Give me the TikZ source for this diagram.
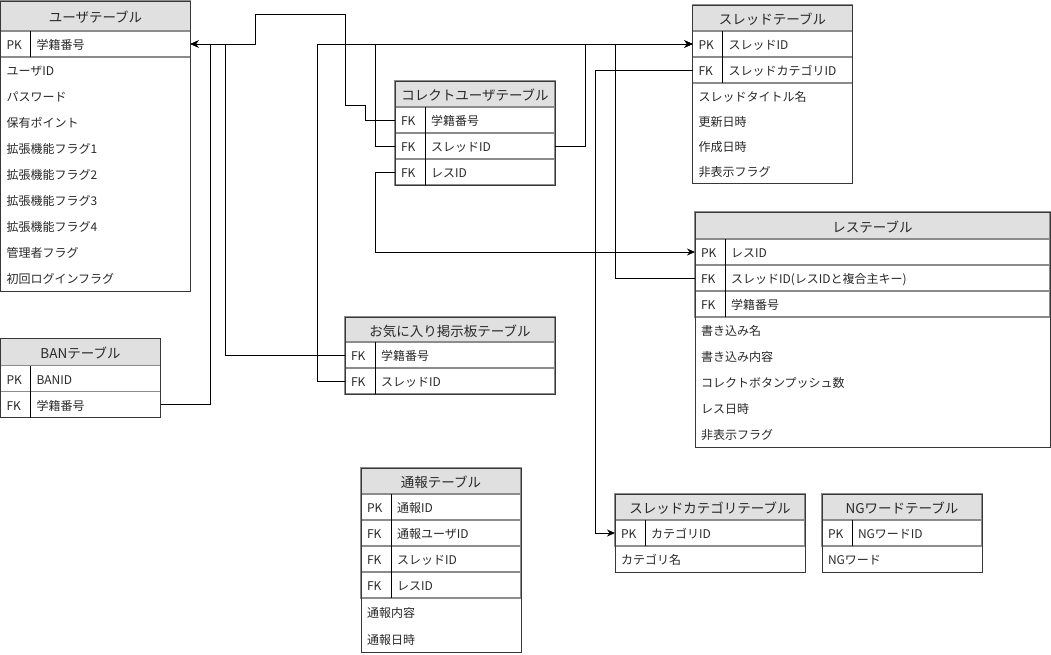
\documentclass[tikz,border=0pt]{standalone}
\usepackage{fontspec}
\setmainfont{Noto Sans CJK JP}
\usepackage{xcolor}
\usetikzlibrary{arrows.meta,positioning}
\definecolor{headgray}{RGB}{224,224,224}
\definecolor{sepgray}{RGB}{140,140,140}
\definecolor{framegray}{RGB}{55,55,55}
\definecolor{txtgray}{RGB}{40,40,40}
\newcommand{\kf}[1]{\makebox[30pt][l]{#1}}

\begin{document}
\begin{tikzpicture}[x=1pt,y=-1pt,
        head/.style={rectangle,draw=sepgray,fill=headgray,line width=1.2pt,minimum width=#1,
          minimum height=26pt,inner sep=0pt,outer sep=0pt,anchor=north west,
          text height=14pt,text depth=1pt,font=\fontsize{13.5}{15}\selectfont,text=txtgray},
        keyrow/.style={rectangle,draw=sepgray,line width=1.2pt,text width=#1,minimum height=26pt,
          inner xsep=6pt,inner ysep=0pt,outer sep=0pt,text height=12.5pt,text depth=1pt,
          font=\fontsize{12}{14}\selectfont,text=txtgray},
        attr/.style={rectangle,text width=#1,minimum height=26pt,inner xsep=6pt,inner ysep=0pt,
          outer sep=0pt,text height=12.5pt,text depth=1pt,font=\fontsize{12}{14}\selectfont,text=txtgray},
        frame/.style={draw=framegray,line width=1pt},
        keyline/.style={draw=black,line width=0.8pt},
        rel/.style={draw=black,line width=0.9pt,-{Stealth[length=8pt,width=7pt]}}]
        \useasboundingbox (0,0) rectangle (1051,654);

        \node[head=190pt,minimum height=30pt] (uHead) at (0.5,1) {ユーザテーブル};
        \node[keyrow=178pt,below=0pt of uHead] (uPK) {\kf{PK}学籍番号};
        \node[attr=178pt,below=0pt of uPK] (uA1) {ユーザID};
        \node[attr=178pt,below=0pt of uA1] (uA2) {パスワード};
        \node[attr=178pt,below=0pt of uA2] (uA3) {保有ポイント};
        \node[attr=178pt,below=0pt of uA3] (uA4) {拡張機能フラグ1};
        \node[attr=178pt,below=0pt of uA4] (uA5) {拡張機能フラグ2};
        \node[attr=178pt,below=0pt of uA5] (uA6) {拡張機能フラグ3};
        \node[attr=178pt,below=0pt of uA6] (uA7) {拡張機能フラグ4};
        \node[attr=178pt,below=0pt of uA7] (uA8) {管理者フラグ};
        \node[attr=178pt,below=0pt of uA8] (uA9) {初回ログインフラグ};
        \draw[frame] (uHead.north west) rectangle (uA9.south east);
        \draw[keyline] ([xshift=30pt]uPK.north west) -- ([xshift=30pt]uPK.south west);

        \node[head=160pt,minimum height=27pt] (bHead) at (0.5,338.5) {BANテーブル};
        \node[keyrow=148pt,below=0pt of bHead] (bPK) {\kf{PK}BANID};
        \node[keyrow=148pt,below=0pt of bPK] (bFK) {\kf{FK}学籍番号};
        \draw[frame] (bHead.north west) rectangle (bFK.south east);
        \draw[keyline] ([xshift=30pt]bPK.north west) -- ([xshift=30pt]bFK.south west);

        \node[head=160pt] (cuHead) at (395,81) {コレクトユーザテーブル};
        \node[keyrow=148pt,below=0pt of cuHead] (cuGak) {\kf{FK}学籍番号};
        \node[keyrow=148pt,below=0pt of cuGak] (cuThr) {\kf{FK}スレッドID};
        \node[keyrow=148pt,below=0pt of cuThr] (cuRes) {\kf{FK}レスID};
        \draw[frame] (cuHead.north west) rectangle (cuRes.south east);
        \draw[keyline] ([xshift=30pt]cuGak.north west) -- ([xshift=30pt]cuRes.south west);

        \node[head=160pt] (thHead) at (692.5,5) {スレッドテーブル};
        \node[keyrow=148pt,below=0pt of thHead] (thPK) {\kf{PK}スレッドID};
        \node[keyrow=148pt,below=0pt of thPK] (thCat) {\kf{FK}スレッドカテゴリID};
        \node[attr=148pt,minimum height=25pt,below=0pt of thCat] (thA1) {スレッドタイトル名};
        \node[attr=148pt,minimum height=25pt,below=0pt of thA1] (thA2) {更新日時};
        \node[attr=148pt,minimum height=25pt,below=0pt of thA2] (thA3) {作成日時};
        \node[attr=148pt,minimum height=25pt,below=0pt of thA3] (thA4) {非表示フラグ};
        \draw[frame] (thHead.north west) rectangle (thA4.south east);
        \draw[keyline] ([xshift=30pt]thPK.north west) -- ([xshift=30pt]thCat.south west);

        \node[head=355pt,minimum height=27pt] (rsHead) at (695,212) {レステーブル};
        \node[keyrow=343pt,below=0pt of rsHead] (rsPK) {\kf{PK}レスID};
        \node[keyrow=343pt,below=0pt of rsPK] (rsThr) {\kf{FK}スレッドID(レスIDと複合主キー)};
        \node[keyrow=343pt,below=0pt of rsThr] (rsGak) {\kf{FK}学籍番号};
        \node[attr=343pt,below=0pt of rsGak] (rsA1) {書き込み名};
        \node[attr=343pt,below=0pt of rsA1] (rsA2) {書き込み内容};
        \node[attr=343pt,below=0pt of rsA2] (rsA3) {コレクトボタンプッシュ数};
        \node[attr=343pt,below=0pt of rsA3] (rsA4) {レス日時};
        \node[attr=343pt,below=0pt of rsA4] (rsA5) {非表示フラグ};
        \draw[frame] (rsHead.north west) rectangle (rsA5.south east);
        \draw[keyline] ([xshift=30pt]rsPK.north west) -- ([xshift=30pt]rsGak.south west);

        \node[head=210pt,minimum height=25pt] (fvHead) at (345,317) {お気に入り掲示板テーブル};
        \node[keyrow=198pt,below=0pt of fvHead] (fvGak) {\kf{FK}学籍番号};
        \node[keyrow=198pt,below=0pt of fvGak] (fvThr) {\kf{FK}スレッドID};
        \draw[frame] (fvHead.north west) rectangle (fvThr.south east);
        \draw[keyline] ([xshift=30pt]fvGak.north west) -- ([xshift=30pt]fvThr.south west);

        \node[head=160pt] (rpHead) at (361,468) {通報テーブル};
        \node[keyrow=148pt,below=0pt of rpHead] (rpPK) {\kf{PK}通報ID};
        \node[keyrow=148pt,below=0pt of rpPK] (rpUsr) {\kf{FK}通報ユーザID};
        \node[keyrow=148pt,below=0pt of rpUsr] (rpThr) {\kf{FK}スレッドID};
        \node[keyrow=148pt,below=0pt of rpThr] (rpRes) {\kf{FK}レスID};
        \node[attr=148pt,minimum height=27pt,below=0pt of rpRes] (rpA1) {通報内容};
        \node[attr=148pt,minimum height=27pt,below=0pt of rpA1] (rpA2) {通報日時};
        \draw[frame] (rpHead.north west) rectangle (rpA2.south east);
        \draw[keyline] ([xshift=30pt]rpPK.north west) -- ([xshift=30pt]rpRes.south west);

        \node[head=190pt] (ctHead) at (615,494) {スレッドカテゴリテーブル};
        \node[keyrow=178pt,below=0pt of ctHead] (ctPK) {\kf{PK}カテゴリID};
        \node[attr=178pt,below=0pt of ctPK] (ctA1) {カテゴリ名};
        \draw[frame] (ctHead.north west) rectangle (ctA1.south east);
        \draw[keyline] ([xshift=30pt]ctPK.north west) -- ([xshift=30pt]ctPK.south west);

        \node[head=160pt] (ngHead) at (822,494) {NGワードテーブル};
        \node[keyrow=148pt,below=0pt of ngHead] (ngPK) {\kf{PK}NGワードID};
        \node[attr=148pt,below=0pt of ngPK] (ngA1) {NGワード};
        \draw[frame] (ngHead.north west) rectangle (ngA1.south east);
        \draw[keyline] ([xshift=30pt]ngPK.north west) -- ([xshift=30pt]ngPK.south west);

        \draw[rel] (cuGak.west) -| (365,105) -| (345,14) -| (255,44) -- (uPK.east);
        \draw[rel] (bFK.east) -| (210,44) -- (uPK.east);
        \draw[rel] (fvGak.west) -| (225,44) -- (uPK.east);
        \draw[rel] (fvThr.west) -| (317,44) -- (thPK.west);
        \draw[rel] (cuThr.west) -| (375,44) -- (thPK.west);
        \draw[rel] (cuThr.east) -| (585,44) -- (thPK.west);
        \draw[rel] (rsThr.west) -| (615,44) -- (thPK.west);
        \draw[rel] (cuRes.west) -| (375,252) -- (rsPK.west);
        \draw[rel] (thCat.west) -| (595,533) -- (ctPK.west);
      \end{tikzpicture}
\end{document}
